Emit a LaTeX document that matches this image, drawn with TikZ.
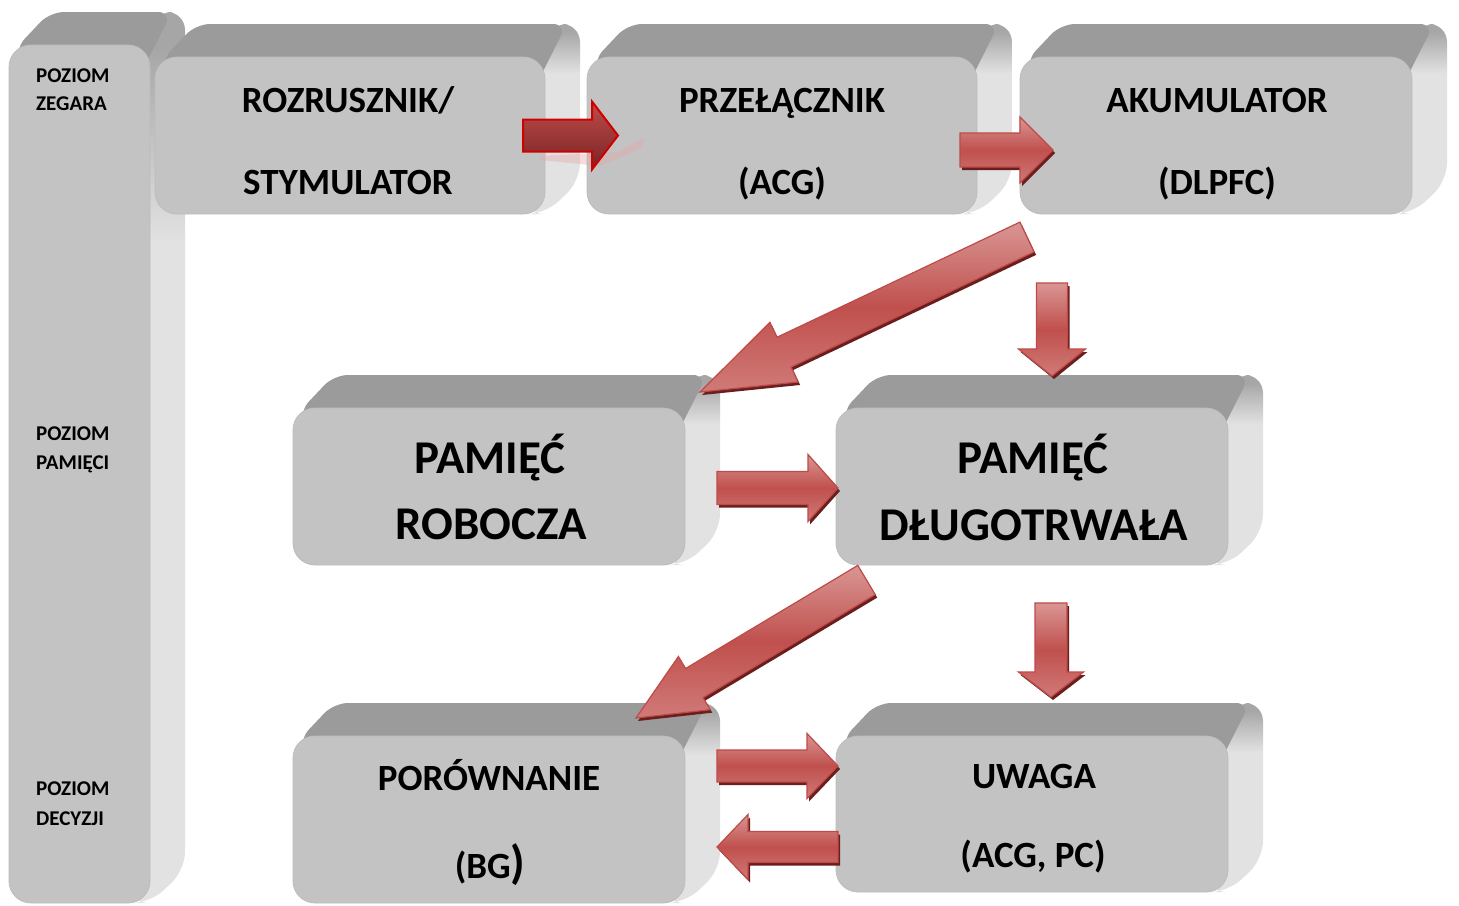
\documentclass[tikz,border=0pt]{standalone}
\usepackage{fontspec}
\setmainfont{Carlito}
\usetikzlibrary{calc}
\definecolor{frontc}{HTML}{C3C3C3}
\definecolor{frontd}{HTML}{BDBDBD}
\definecolor{topc}{HTML}{9B9B9B}
\definecolor{sidel}{HTML}{E2E2E2}
\definecolor{sided}{HTML}{A6A6A6}
\definecolor{arrl}{HTML}{D99694}
\definecolor{arrm}{HTML}{C0504D}
\definecolor{arrb}{HTML}{D07A78}
\definecolor{arro}{HTML}{BE4B48}
\definecolor{arrs}{HTML}{6A1E1E}
\definecolor{aonel}{HTML}{BD4C4A}
\definecolor{aoned}{HTML}{7A2424}
\definecolor{aoneo}{HTML}{D00000}
\definecolor{reflc}{HTML}{E8A8A8}
\pgfdeclareverticalshading{sideshade}{100bp}{color(0bp)=(sidel); color(62bp)=(sidel); color(73bp)=(sided); color(100bp)=(sided)}
\tikzset{
  front/.style={rectangle, rounded corners=22pt, fill=frontc, draw=frontd, line width=0.8pt, inner sep=0pt, outer sep=0pt},
  sidelbl/.style={font=\fontsize{21}{25}\selectfont\bfseries, anchor=base west, inner sep=0pt},
  ttl/.style={font=\fontsize{37}{44}\selectfont\bfseries, anchor=base, inner sep=0pt},
  bigttl/.style={font=\fontsize{47}{56}\selectfont\bfseries, anchor=base, inner sep=0pt},
  redarr/.style={top color=arrl, bottom color=arrb, middle color=arrm, draw=arro, line width=1.2pt, line join=miter},
  redshadow/.style={fill=arrs, transform canvas={xshift=2pt, yshift=-3pt}},
  firstarr/.style={top color=aonel, bottom color=aoned, draw=aoneo, line width=2pt, line join=miter},
}
% name, x1, y1, x2, y2 (front face)
\newcommand\cube[5]{%
  \shade[shading=sideshade, rounded corners=18pt] ({#4-20},{#3+10}) -- ({#4+5},{#3-33}) -- ({#4+35},{#3-33}) -- ({#4+35},{#5-33}) -- ({#4},{#5}) -- ({#4-20},{#5}) -- cycle;
  \fill[topc, rounded corners=14pt] ({#2+14},{#3+30}) -- ({#2+6},{#3+4}) -- ({#2+41},{#3-33}) -- ({#4+22},{#3-33}) -- ({#4-10},{#3+30}) -- cycle;
  \node[front, minimum width={(#4-#2)*1pt}, minimum height={(#5-#3)*1pt}] (#1) at ({(#2+#4)/2},{(#3+#5)/2}) {};
}
% style, start, end, half shaft, half head, head length
\newcommand\barrow[6]{%
  \coordinate (bs) at #2; \coordinate (be) at #3;
  \coordinate (bj) at ($(be)!#6!(bs)$);
  \path[#1] ($(bs)!#4!90:(be)$) -- ($(bj)!#4!90:(be)$) -- ($(bj)!#5!90:(be)$) -- (be) -- ($(bj)!#5!-90:(be)$) -- ($(bj)!#4!-90:(be)$) -- ($(bs)!#4!-90:(be)$) -- cycle;
}
\newcommand\redarrow[5]{%
  \barrow{redshadow}{#1}{#2}{#3}{#4}{#5}%
  \barrow{redarr}{#1}{#2}{#3}{#4}{#5}%
}
\begin{document}
\begin{tikzpicture}[x=1pt, y=-1pt]
\useasboundingbox (0,0) rectangle (1459,905);
\fill[white] (0,0) rectangle (1459,905);

% boxes
\cube{pillar}{9}{45}{150}{903}
\cube{roz}{155}{57}{545}{214}
\cube{prz}{587}{57}{977}{214}
\cube{aku}{1020}{57}{1412}{214}
\cube{rob}{293}{408}{685}{565}
\cube{dlu}{836}{408}{1228}{565}
\cube{por}{293}{736}{685}{903}
\cube{uwa}{836}{736}{1228}{892}

% side labels
\node[sidelbl] (lz1) at (36,82) {POZIOM};
\node[sidelbl] (lz2) at (36,110.7) {ZEGARA};
\node[sidelbl] (lp1) at (36,440) {POZIOM};
\node[sidelbl] (lp2) at (36,469.3) {PAMIĘCI};
\node[sidelbl] (ld1) at (36,795) {POZIOM};
\node[sidelbl] (ld2) at (36,825) {DECYZJI};

% box texts
\node[ttl] (t1a) at (348,112) {ROZRUSZNIK/};
\node[ttl] (t1b) at (348,194) {STYMULATOR};
\node[ttl] (t2a) at (782,112) {PRZEŁĄCZNIK};
\node[ttl] (t2b) at (782,194) {(ACG)};
\node[ttl] (t3a) at (1217,112) {AKUMULATOR};
\node[ttl] (t3b) at (1217,194) {(DLPFC)};
\node[bigttl] (t4a) at (490,473) {PAMIĘĆ};
\node[bigttl] (t4b) at (491,539) {ROBOCZA};
\node[bigttl] (t5a) at (1033,473) {PAMIĘĆ};
\node[bigttl] (t5b) at (1034,540) {DŁUGOTRWAŁA};
\node[ttl] (t6a) at (489,790) {PORÓWNANIE};
\node[ttl] (t6b) at (490,878) {(BG{\fontsize{47}{56}\selectfont)}};
\node[ttl] (t7a) at (1034,788) {UWAGA};
\node[ttl] (t7b) at (1033,867) {(ACG, PC)};

% first arrow (with faint reflection)
\fill[reflc, opacity=0.4] (540,156) -- (617,152) -- (645,137) -- (642,148) -- (600,166) -- (540,160) -- cycle;
\barrow{firstarr}{([xshift=-22pt]roz.east)}{([xshift=31pt]prz.west)}{16pt}{34pt}{26pt}

% other arrows
\redarrow{([xshift=-17pt,yshift=-14.5pt]prz.east)}{([xshift=33pt,yshift=-14.5pt]aku.west)}{17pt}{33pt}{33pt}
\redarrow{([xshift=7pt,yshift=-23pt]aku.south west)}{([xshift=15pt,yshift=16pt]rob.north east)}{16.5pt}{33pt}{93pt}
\redarrow{([xshift=32pt,yshift=-69pt]aku.south west)}{([xshift=20pt,yshift=32pt]dlu.north)}{15.5pt}{33.5pt}{27pt}
\redarrow{([xshift=32pt,yshift=-1.5pt]rob.east)}{([xshift=2pt,yshift=-1.5pt]dlu.west)}{16.5pt}{33.5pt}{30pt}
\redarrow{([xshift=30.5pt,yshift=-15pt]dlu.south west)}{([xshift=-49pt,yshift=18pt]por.north east)}{17pt}{31pt}{68pt}
\redarrow{([xshift=19pt,yshift=-38pt]dlu.south)}{([xshift=19pt,yshift=39pt]uwa.north)}{16pt}{32.5pt}{25pt}
\redarrow{([xshift=32pt,yshift=53.5pt]por.east)}{([xshift=2pt,yshift=48pt]uwa.west)}{16pt}{32.5pt}{31pt}
\redarrow{([xshift=2pt,yshift=-33pt]uwa.west)}{([xshift=32pt,yshift=-27.5pt]por.east)}{15.5pt}{32.5pt}{31pt}
\end{tikzpicture}
\end{document}
